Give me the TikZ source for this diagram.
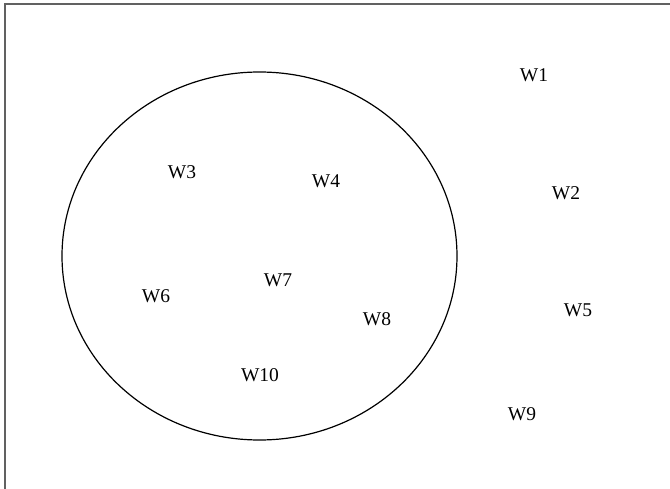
\documentclass[tikz,border=0pt]{standalone}
\usepackage{fontspec}
\setmainfont{Liberation Serif}
\usetikzlibrary{shapes.geometric}
\begin{document}
\begin{tikzpicture}[x=1pt,y=-1pt,
  lbl/.style={inner sep=0pt,font=\fontsize{19.5}{22}\selectfont},
  frame/.style={draw=black!62,line width=2pt}]
\useasboundingbox (0,0) rectangle (670,489);
\coordinate (tl) at (4.5,4);
\coordinate (tr) at (670,4);
\coordinate (bl) at (4.5,489);
\draw[frame] (tr) -- (tl) -- (bl);
\node[draw,line width=1.2pt,ellipse,minimum width=395pt,minimum height=368pt,inner sep=0pt] (set) at (259.5,256) {};
\node[lbl] (w1) at (534,75.5) {W1};
\node[lbl] (w2) at (566,193) {W2};
\node[lbl] (w3) at (182,172) {W3};
\node[lbl] (w4) at (326,181) {W4};
\node[lbl] (w5) at (578,310) {W5};
\node[lbl] (w6) at (156,296) {W6};
\node[lbl] (w7) at (278,280) {W7};
\node[lbl] (w8) at (377,319) {W8};
\node[lbl] (w9) at (522,414) {W9};
\node[lbl] (w10) at (260,375) {W10};
\end{tikzpicture}
\end{document}
